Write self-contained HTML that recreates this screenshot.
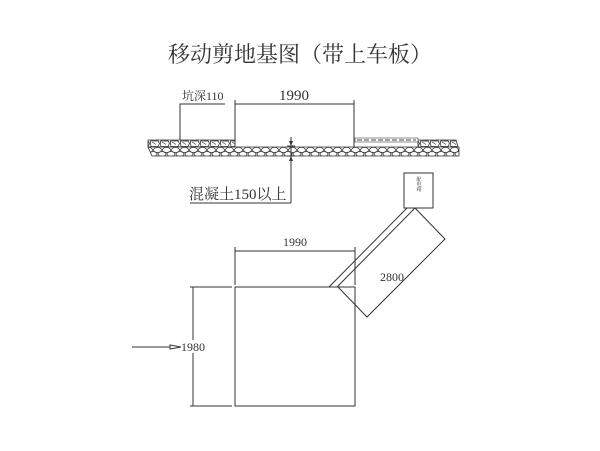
<!DOCTYPE html>
<html><head><meta charset="utf-8"><style>
html,body{margin:0;padding:0;background:#fff;}
svg{display:block;}
text{font-family:"Liberation Serif","Noto Serif CJK SC","Noto Sans CJK SC",serif;fill:#333;}
</style></head><body>
<svg width="600" height="451" viewBox="0 0 600 451" xmlns="http://www.w3.org/2000/svg">
<defs>
<pattern id="st" x="0" y="140" width="10" height="7" patternUnits="userSpaceOnUse">
<rect width="10" height="7" fill="#fff"/>
<path d="M0.5,1 L8,0.8 L9.5,3.5 L8,6.5 L1,6.5 L0.5,3.5 Z" fill="none" stroke="#333" stroke-width="0.8"/>
<path d="M2,2 L6,4.5" stroke="#333" stroke-width="0.6"/>
</pattern>
<pattern id="st2" x="0" y="147" width="9" height="9" patternUnits="userSpaceOnUse">
<rect width="9" height="9" fill="#fff"/>
<ellipse cx="4.5" cy="3" rx="4" ry="2.6" fill="none" stroke="#333" stroke-width="0.8"/>
<ellipse cx="0" cy="7" rx="4" ry="2.4" fill="none" stroke="#333" stroke-width="0.8"/>
<ellipse cx="9" cy="7" rx="4" ry="2.4" fill="none" stroke="#333" stroke-width="0.8"/>
</pattern>
</defs>
<text x="300" y="62" font-size="22" text-anchor="middle">移动剪地基图（带上车板）</text>

<!-- ground -->
<path d="M148,140 L235,140 L235,147 L148,147 Z" fill="url(#st)" stroke="#333" stroke-width="0.8"/>
<path d="M418,140 L456,140 L458,147 L418,147 Z" fill="url(#st)" stroke="#333" stroke-width="0.8"/>
<path d="M148,147 L459,147 L459,156 L152,156 Z" fill="url(#st2)" stroke="#333" stroke-width="0.8"/>
<rect x="355" y="138" width="63" height="4" fill="#fff" stroke="#444" stroke-width="0.6"/>
<line x1="357" y1="140" x2="416" y2="140" stroke="#444" stroke-width="1" stroke-dasharray="5,2"/>
<g stroke="#333" stroke-width="1" fill="none">
<line x1="235" y1="100" x2="235" y2="147"/>
<line x1="354" y1="100" x2="354" y2="147"/>
<line x1="235" y1="104" x2="354" y2="104"/>
<polyline points="180,140 180,104 225,104"/>
<line x1="291" y1="137" x2="291" y2="203"/>
<line x1="190" y1="203" x2="291" y2="203"/>
<line x1="287" y1="146" x2="295" y2="146"/>
<line x1="287" y1="156" x2="295" y2="156"/>
</g>
<path d="M291,146 l-2,-5 l4,0 Z M291,156 l-2,5 l4,0 Z" fill="#333"/>
<text x="294" y="100" font-size="15" text-anchor="middle">1990</text>
<text x="182" y="100" font-size="12">坑深110</text>
<text x="189" y="199" font-size="15">混凝土150以上</text>

<!-- plan -->
<g stroke="#333" stroke-width="1" fill="none">
<rect x="235" y="287" width="120" height="119"/>
<line x1="235" y1="247" x2="235" y2="285"/>
<line x1="355" y1="247" x2="355" y2="285"/>
<line x1="235" y1="251" x2="355" y2="251"/>
<line x1="193" y1="287" x2="193" y2="406"/>
<line x1="190" y1="287" x2="232" y2="287"/>
<line x1="190" y1="406" x2="232" y2="406"/>
<line x1="132" y1="347" x2="170" y2="347"/>
<path d="M170,345 L181,347 L170,349 Z"/>
<rect x="404" y="173" width="29" height="35"/>
<line x1="329" y1="287" x2="407" y2="208"/>
<line x1="337" y1="287" x2="415" y2="208"/>
<polyline points="338,287 367,317 445,239 415,208"/>
</g>
<text x="295" y="246" font-size="12" text-anchor="middle">1990</text>
<rect x="181" y="340" width="24" height="13" fill="#fff"/>
<text x="181" y="351" font-size="12">1980</text>
<text x="392" y="281" font-size="12" text-anchor="middle">2800</text>
<text x="418" y="184" font-size="5" text-anchor="middle" writing-mode="tb">配电箱</text>
</svg>
</body></html>
